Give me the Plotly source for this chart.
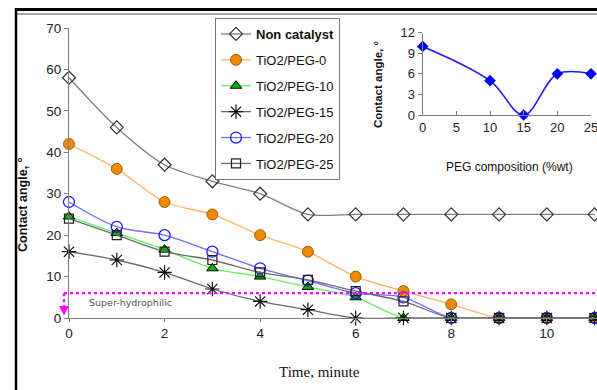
import plotly.graph_objects as go

# ---- data ----
time_min = [0, 1, 2, 3, 4, 5, 6, 7, 8, 9, 10, 11]
non_catalyst = [58, 46, 37, 33, 30, 25, 25, 25, 25, 25, 25, 25]
peg_0 = [42, 36, 28, 25, 20, 16, 10, 6.5, 3.3, 0, 0, 0]
peg_10 = [24.5, 20.5, 16.5, 12, 10, 7.5, 5, 0, 0, 0, 0, 0]
peg_15 = [16, 14, 11, 7, 4, 2, 0, 0, 0, 0, 0, 0]
peg_20 = [28, 22, 20, 16, 12, 9, 6, 5, 0, 0, 0, 0]
peg_25 = [24, 20, 16, 14, 11, 9.2, 6.5, 4, 0, 0, 0, 0]

peg_comp = [0, 10, 15, 20, 25]
inset_angle = [10, 5, 0, 6, 6]

super_hydrophilic_level = 6
x_ticks = [0, 2, 4, 6, 8, 10]
y_ticks = [0, 10, 20, 30, 40, 50, 60, 70]
inset_x_ticks = [0, 5, 10, 15, 20, 25]
inset_y_ticks = [0, 3, 6, 9, 12]

# ---- geometry helpers (reference pixel -> paper) ----
W, H = 597, 390
L, R, T, B = 69, 0, 28, 72
PW, PH = W - L - R, H - T - B


def px(xp):
    return (xp - L) / PW


def py(yp):
    return (H - B - yp) / PH


fig = go.Figure()

series = [
    ("<b>Non catalyst</b>", non_catalyst, dict(color="#7f7f7f", width=1.3),
     dict(symbol="diamond-open", size=10, color="#333333", line=dict(width=1.2, color="#333333"))),
    ("TiO2/PEG-0", peg_0, dict(color="#ffb266", width=1.3),
     dict(symbol="circle", size=11, color="#f08a00", line=dict(width=0.8, color="#7a4a00"))),
    ("TiO2/PEG-10", peg_10, dict(color="#66ee66", width=1.3),
     dict(symbol="triangle-up", size=10, color="#00b400", line=dict(width=1, color="#000000"))),
    ("TiO2/PEG-15", peg_15, dict(color="#6a6a6a", width=1.3),
     dict(symbol="asterisk-open", size=12, color="#111111", line=dict(width=1.2, color="#111111"))),
    ("TiO2/PEG-20", peg_20, dict(color="#6f6fff", width=1.3),
     dict(symbol="circle-open", size=11, color="#1a1aff", line=dict(width=1.3, color="#1a1aff"))),
    ("TiO2/PEG-25", peg_25, dict(color="#6a6a6a", width=1.3),
     dict(symbol="square-open", size=9, color="#222222", line=dict(width=1.2, color="#222222"))),
]

for i, (name, ys, line, marker) in enumerate(series):
    fig.add_trace(go.Scatter(
        x=time_min, y=ys, name=name, mode="lines+markers",
        line=dict(shape="spline", smoothing=0.8, **line), marker=marker,
        cliponaxis=False, legendgroup=f"g{i}", xaxis="x", yaxis="y",
    ))

fig.add_trace(go.Scatter(
    x=peg_comp, y=inset_angle, mode="lines+markers", showlegend=False,
    line=dict(shape="spline", smoothing=1, color="#1a1aff", width=1.6),
    marker=dict(symbol="diamond", size=9, color="#0000ff"),
    cliponaxis=False, xaxis="x2", yaxis="y2",
))

tickfont = dict(family="Liberation Sans, Arial", size=13, color="#222222")
fig.update_layout(
    width=W, height=H, margin=dict(l=L, r=R, t=T, b=B, autoexpand=False),
    paper_bgcolor="white", plot_bgcolor="white",
    showlegend=True,
    legend=dict(
        x=px(215), y=py(18), xanchor="left", yanchor="top",
        bgcolor="white", bordercolor="#777777", borderwidth=1,
        font=dict(family="Liberation Sans, Arial", size=13, color="#111111"),
        traceorder="grouped", tracegroupgap=6, itemwidth=30,
    ),
    xaxis=dict(
        range=[0, 11.05], tickvals=x_ticks, showgrid=False, zeroline=False,
        showline=True, linecolor="#7f7f7f", linewidth=1.2,
        ticks="outside", ticklen=3, tickcolor="#7f7f7f",
        tickfont=dict(family="Liberation Sans, Arial", size=13.5, color="#222222"),
        tickprefix="<b>", ticksuffix="</b>",
        domain=[0, 1],
    ),
    yaxis=dict(
        range=[0, 70], tickvals=y_ticks, showgrid=False, zeroline=False,
        showline=True, linecolor="#7f7f7f", linewidth=1.2,
        ticks="outside", ticklen=4, tickcolor="#7f7f7f",
        tickfont=dict(family="Liberation Sans, Arial", size=13.5, color="#222222"),
        tickprefix="<b>", ticksuffix="</b>",
        domain=[0, 1],
    ),
    xaxis2=dict(
        range=[0, 25], tickvals=inset_x_ticks, showgrid=False, zeroline=False,
        showline=True, linecolor="#7f7f7f", linewidth=1.2,
        ticks="inside", ticklen=4, tickcolor="#7f7f7f",
        tickfont=tickfont, tickprefix="<b>", ticksuffix="</b>",
        ticklabeloverflow="allow",
        domain=[px(422.7), px(591)], anchor="y2",
    ),
    yaxis2=dict(
        range=[0, 12], tickvals=inset_y_ticks, showgrid=False, zeroline=False,
        showline=True, linecolor="#7f7f7f", linewidth=1.2,
        ticks="outside", ticklen=4, tickcolor="#7f7f7f",
        tickfont=tickfont, tickprefix="<b>", ticksuffix="</b>",
        domain=[py(115), py(32.7)], anchor="x2",
    ),
)

# super-hydrophilic threshold line
fig.add_shape(type="line", xref="paper", yref="y", x0=px(64), x1=1.0,
              y0=super_hydrophilic_level, y1=super_hydrophilic_level,
              line=dict(color="#ff00ff", width=2.2, dash="dot"))
fig.add_shape(type="line", xref="paper", yref="y", x0=px(64), x1=px(64),
              y0=super_hydrophilic_level, y1=2.0,
              line=dict(color="#ff00ff", width=2.2, dash="dot"))
fig.add_annotation(xref="paper", yref="y", x=px(64), y=0.6, ax=0, ay=-10,
                   showarrow=True, arrowhead=2,
                   arrowsize=1.2, arrowwidth=1.6, arrowcolor="#ff00ff", text="")
fig.add_annotation(xref="paper", yref="paper", x=px(87), y=py(302), xanchor="left",
                   yanchor="middle", showarrow=False, text="Super-hydrophilic",
                   font=dict(family="DejaVu Sans", size=9.5, color="#555555"))

# axis titles
fig.add_annotation(xref="paper", yref="paper", x=px(319), y=py(372), showarrow=False,
                   xanchor="center", yanchor="middle", text="Time, minute",
                   font=dict(family="Liberation Serif, Times New Roman", size=15, color="#111111"))
fig.add_annotation(xref="paper", yref="paper", x=px(23), y=py(205), showarrow=False,
                   xanchor="center", yanchor="middle",
                   text="<b>Contact angle, °</b>", textangle=-90,
                   font=dict(family="Liberation Sans, Arial", size=12.5, color="#111111"))
fig.add_annotation(xref="paper", yref="paper", x=px(378), y=py(85), showarrow=False,
                   xanchor="center", yanchor="middle",
                   text="<b>Contact angle, °</b>", textangle=-90,
                   font=dict(family="Liberation Sans, Arial", size=11.5, color="#111111"))
fig.add_annotation(xref="paper", yref="paper", x=px(509), y=py(167), showarrow=False,
                   xanchor="center", yanchor="middle",
                   text="PEG composition (%wt)",
                   font=dict(family="Liberation Sans, Arial", size=12, color="#111111"))

# figure frame remnants
fig.add_shape(type="line", xref="paper", yref="paper", x0=px(15), x1=px(600),
              y0=py(9.5), y1=py(9.5), line=dict(color="black", width=3))
fig.add_shape(type="line", xref="paper", yref="paper", x0=px(16), x1=px(600),
              y0=py(14), y1=py(14), line=dict(color="#888888", width=1.5))
fig.add_shape(type="line", xref="paper", yref="paper", x0=px(16), x1=px(16),
              y0=py(8), y1=py(392), line=dict(color="black", width=2.5))

fig.write_html(
    "out.html",
    config={"displayModeBar": False},
    post_script="document.body.style.margin='0';document.body.style.overflow='hidden';",
)
